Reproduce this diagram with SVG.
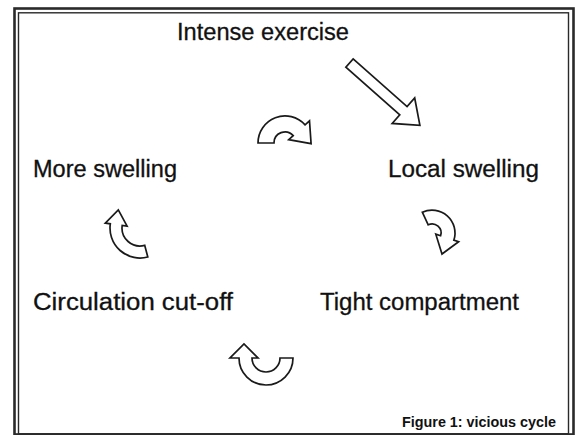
<svg xmlns="http://www.w3.org/2000/svg" width="582" height="435" viewBox="0 0 582 435">
<style>
.lbl{font-family:"Liberation Sans",Arial,sans-serif;font-size:23.5px;fill:#111;stroke:#111;stroke-width:0.3}
.cap{font-family:"Liberation Sans",Arial,sans-serif;font-size:14px;font-weight:bold;fill:#111}
.arr{fill:#fff;stroke:#1a1a1a;stroke-width:1.7;stroke-linejoin:miter}
</style>
<rect x="0" y="0" width="582" height="435" fill="#fff"/>
<g id="frame" fill="none" stroke="#2a2a2a">
<rect x="14.5" y="8.5" width="559" height="426" stroke-width="2.6"/>
<rect x="18.5" y="12.8" width="550" height="421" stroke-width="1.4"/>
</g>
<g id="intense-exercise"><text class="lbl" x="177" y="40" textLength="172" lengthAdjust="spacingAndGlyphs">Intense exercise</text></g>
<g id="local-swelling"><text class="lbl" x="388" y="177" textLength="151" lengthAdjust="spacingAndGlyphs">Local swelling</text></g>
<g id="tight-compartment"><text class="lbl" x="320" y="310" textLength="199" lengthAdjust="spacingAndGlyphs">Tight compartment</text></g>
<g id="circulation-cut-off"><text class="lbl" x="33" y="310" textLength="200" lengthAdjust="spacingAndGlyphs">Circulation cut-off</text></g>
<g id="more-swelling"><text class="lbl" x="33" y="177" textLength="144" lengthAdjust="spacingAndGlyphs">More swelling</text></g>
<g id="caption"><text class="cap" x="402" y="427" textLength="154" lengthAdjust="spacingAndGlyphs">Figure 1: vicious cycle</text></g>
<g id="connectors">
<polygon class="arr" transform="translate(349.5,63) rotate(41.5)" points="0,-5.5 72,-5.5 72,-17 94,0 72,17 72,5.5 0,5.5"/>
<path class="arr" d="M258,143 A27,27 0 0 1 305.1,124.9 L309.5,120.9 L311.1,143.7 L288.7,139.7 L293.2,135.6 A11,11 0 0 0 274,143 Z"/>
<path class="arr" d="M422.3,212.2 A23,23 0 0 1 453.9,240.1 L458.6,241.7 L442,254 L435.8,234.2 L440.6,235.8 A9,9 0 0 0 428.2,224.8 Z"/>
<path class="arr" d="M293,358 A27,27 0 0 1 239,358 L230,358 L244,344 L258,358 L252,358 A14,14 0 0 0 280,358 Z"/>
<path class="arr" d="M147.8,257 A30,30 0 0 1 110.3,223.8 L105.3,223.1 L118.3,209.9 L127.1,226.2 L122.2,225.5 A18,18 0 0 0 144.7,245.4 Z"/>
</g>
</svg>
